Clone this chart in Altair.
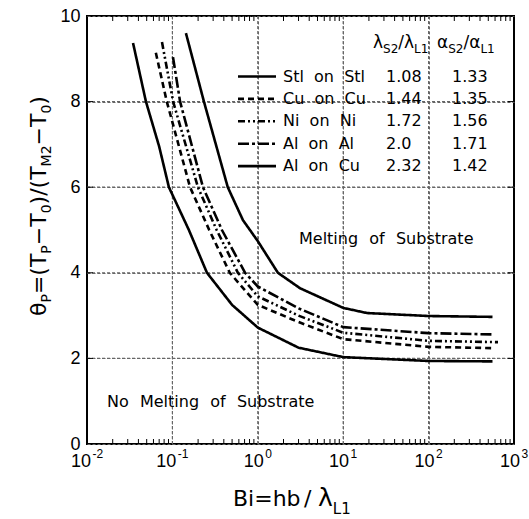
import altair as alt
import pandas as pd
import numpy as np

# ---------------- data ----------------
series = ["Stl on Stl", "Cu on Cu", "Ni on Ni", "Al on Al", "Al on Cu"]

stl_x = [0.0346, 0.049, 0.07, 0.091, 0.156, 0.254, 0.5, 1.0, 3.0, 10, 100, 560]
stl_y = [9.37, 8.0, 6.95, 6.0, 5.0, 4.0, 3.25, 2.72, 2.25, 2.03, 1.94, 1.93]

cu_x = [0.064, 0.086, 0.161, 0.27, 0.47, 1.0, 3.0, 10, 100, 560]
cu_y = [9.14, 8.0, 6.0, 5.0, 4.0, 3.25, 2.85, 2.45, 2.27, 2.24]

ni_x = [0.0755, 0.102, 0.199, 0.33, 0.585, 1.0, 3.0, 10, 100, 650]
ni_y = [9.39, 8.0, 6.0, 5.0, 4.0, 3.45, 3.0, 2.6, 2.41, 2.38]

al_x = [0.1016, 0.123, 0.228, 0.38, 0.71, 1.0, 3.0, 10, 100, 560]
al_y = [9.04, 8.0, 6.0, 5.0, 4.0, 3.68, 3.17, 2.73, 2.59, 2.56]

alcu_x = [0.144, 0.234, 0.445, 0.67, 1.0, 1.72, 3.12, 10, 19, 100, 560]
alcu_y = [9.6, 8.0, 6.0, 5.23, 4.74, 4.0, 3.64, 3.18, 3.06, 2.99, 2.97]

lam_ratio = ["1.08", "1.44", "1.72", "2.0", "2.32"]
alpha_ratio = ["1.33", "1.35", "1.56", "1.71", "1.42"]

x_tick_exponents = [-2, -1, 0, 1, 2, 3]
x_grid_values = [0.1, 1, 10, 100]
y_tick_values = [0, 2, 4, 6, 8, 10]

# ---------------- layout ----------------
W, H = 427, 428
L, T = 87, 16
LX0, LX1 = np.log10(0.01), np.log10(1000.0)


def xd(px):
    return 10 ** (LX0 + (px - L) / W * (LX1 - LX0))


def yd(py):
    return 10.0 * (T + H - py) / H


xs = alt.Scale(type="log", domain=[0.01, 1000], nice=False)
ys = alt.Scale(domain=[0, 10], nice=False, zero=False)

grid_kw = dict(grid=True, gridColor="#666", gridWidth=1, gridDash=[3, 2], gridOpacity=1,
               ticks=False, domain=False, title=None)
AX_X = alt.Axis(values=x_grid_values, labels=False, **grid_kw)
AX_Y = alt.Axis(values=y_tick_values, labelFont="Liberation Sans", labelFontSize=18,
                labelColor="black", labelPadding=7, labelFlush=False, labelOverlap=False, **grid_kw)


def X(f):
    return alt.X(f, scale=xs, axis=AX_X)


def Y(f):
    return alt.Y(f, scale=ys, axis=AX_Y)


dashes = [[1, 0], [6, 4], [7, 3, 2, 3, 2, 3], [11, 3, 3, 3], [1, 0]]
widths = [2.6, 2.6, 2.2, 2.6, 2.2]
dash_scale = alt.Scale(domain=series, range=dashes)
width_scale = alt.Scale(domain=series, range=widths)

# metrics (advance widths in em)
DJV = {" ": .318, "\u00a0": .318, "\u2002": .5, "\u2009": .2, "(": .390, ")": .390, "/": .337,
       "=": .838, "−": .838, "-": .361, ".": .318, "B": .686, "L": .557, "M": .863, "N": .748,
       "P": .603, "S": .635, "T": .611, "b": .635, "h": .634, "i": .278, "θ": .612, "λ": .592,
       "α": .659}
for d in "0123456789":
    DJV[d] = .636
LIB = {"-": .333, "−": .584}
for d in "0123456789":
    LIB[d] = .556


def tw(s, size, met):
    return sum(met.get(c, 0.6) for c in s) * size


# ---------------- grid (dashed rules, also drawn as marks) ----------------
grid_v = alt.Chart(pd.DataFrame({"gx": x_grid_values, "gy": [0.0] * 4, "gy2": [10.0] * 4})).mark_rule(
    color="#666", strokeWidth=1.2, strokeDash=[3, 2]).encode(x=X("gx:Q"), y=Y("gy:Q"), y2="gy2:Q")
grid_h = alt.Chart(pd.DataFrame({"gy": [2.0, 4.0, 6.0, 8.0], "gx": [0.01] * 4,
                                 "gx2": [1000.0] * 4})).mark_rule(
    color="#666", strokeWidth=1.2, strokeDash=[3, 2]).encode(x=X("gx:Q"), x2="gx2:Q", y=Y("gy:Q"))

# ---------------- curves ----------------
curve_x = [stl_x, cu_x, ni_x, al_x, alcu_x]
curve_y = [stl_y, cu_y, ni_y, al_y, alcu_y]
rows = []
for s, xx, yy in zip(series, curve_x, curve_y):
    for i, (a, b) in enumerate(zip(xx, yy)):
        rows.append({"series": s, "i": i, "x": a, "y": b})
curve_df = pd.DataFrame(rows)

curves = alt.Chart(curve_df).mark_line(color="black", strokeJoin="round", clip=True).encode(
    x=X("x:Q"), y=Y("y:Q"),
    strokeDash=alt.StrokeDash("series:N", scale=dash_scale, legend=None),
    strokeWidth=alt.StrokeWidth("series:N", scale=width_scale, legend=None),
    detail="series:N",
    order="i:Q",
)

# ---------------- ticks ----------------
minor_x = [m * 10.0 ** k for k in range(-2, 3) for m in range(2, 10)]
tl = 10.0 * 5 / H
tick_v = pd.DataFrame(
    [{"x": v, "y": 0.0, "y2": tl} for v in minor_x] +
    [{"x": v, "y": 10.0, "y2": 10.0 - tl} for v in minor_x])
ticks_v = alt.Chart(tick_v).mark_rule(color="black", strokeWidth=1).encode(
    x=X("x:Q"), y=Y("y:Q"), y2="y2:Q")
tick_h = pd.DataFrame(
    [{"x": 0.01, "x2": xd(L + 6), "y": v} for v in y_tick_values[1:-1]] +
    [{"x": 1000.0, "x2": xd(L + W - 6), "y": v} for v in y_tick_values[1:-1]])
ticks_h = alt.Chart(tick_h).mark_rule(color="black", strokeWidth=1).encode(
    x=X("x:Q"), x2="x2:Q", y=Y("y:Q"))

# ---------------- legend ----------------
row_py = [76.5 + 22.4 * k for k in range(5)]
leg_df = pd.DataFrame({"series": series, "x": xd(238), "x2": xd(276), "y": [yd(p) for p in row_py]})
leg_lines = alt.Chart(leg_df).mark_rule(color="black", strokeCap="butt").encode(
    x=X("x:Q"), x2="x2:Q", y=Y("y:Q"),
    strokeDash=alt.StrokeDash("series:N", scale=dash_scale, legend=None),
    strokeWidth=alt.StrokeWidth("series:N", scale=width_scale, legend=None))

sp = "\u00a0 "
leg_txt = []
for k, s in enumerate(series):
    leg_txt.append({"x": xd(283), "y": yd(row_py[k]), "text": s.replace(" ", sp)})
    leg_txt.append({"x": xd(386), "y": yd(row_py[k]), "text": lam_ratio[k]})
    leg_txt.append({"x": xd(452), "y": yd(row_py[k]), "text": alpha_ratio[k]})
leg_text = alt.Chart(pd.DataFrame(leg_txt)).mark_text(
    align="left", baseline="middle", font="DejaVu Sans", fontSize=16, color="black").encode(
    x=X("x:Q"), y=Y("y:Q"), text="text:N")

# ---------------- composed texts (sub/superscripts) ----------------
pieces = []


def compose(items, start, base, sizes, shift, angle=0, met=DJV, gap=0.0):
    """items: list of (text, kind) with kind 'm' main or 's' shifted."""
    cur = start
    for txt, kind in items:
        size = sizes[0] if kind == "m" else sizes[1]
        off = 0 if kind == "m" else shift
        if angle == 0:
            pieces.append({"x": xd(cur), "y": yd(base + off), "text": txt, "size": size,
                           "angle": 0, "font": met is DJV})
            cur += tw(txt, size, met) + gap
        else:
            pieces.append({"x": xd(base + off), "y": yd(cur), "text": txt, "size": size,
                           "angle": 270, "font": met is DJV})
            cur -= tw(txt, size, met) + gap


# y title (rotated)
compose([("θ", "m"), ("P", "s"), ("=(T", "m"), ("P", "s"), ("−T", "m"), ("0", "s"),
         (")/(T", "m"), ("M2", "s"), ("−T", "m"), ("0", "s"), (")", "m")],
        start=316, base=46, sizes=(22, 14), shift=5, angle=270)
# x title
compose([("Bi=hb", "m")], start=233, base=506, sizes=(22, 14), shift=0)
compose([("/", "m")], start=304, base=506, sizes=(22, 14), shift=0)
compose([("λ", "m"), ("L1", "s")], start=318, base=506, sizes=(25, 15), shift=8)
# legend header
compose([("λ", "m"), ("S2", "s"), ("/", "m"), ("λ", "m"), ("L1", "s")],
        start=373, base=48, sizes=(17, 12), shift=5)
compose([("α", "m"), ("S2", "s"), ("/", "m"), ("α", "m"), ("L1", "s")],
        start=437, base=48, sizes=(17, 12), shift=5)
# region labels
wsp = "\u2002\u2009"
compose([("Melting" + wsp + "of" + wsp + "Substrate", "m")], start=299, base=244, sizes=(16, 16), shift=0)
compose([("No" + wsp + "Melting" + wsp + "of" + wsp + "Substrate", "m")], start=107, base=407,
        sizes=(16, 16), shift=0)
# x tick labels: 10 with superscript exponent
for e in x_tick_exponents:
    tick_px = L + (e - LX0) / (LX1 - LX0) * W
    ex = ("-" + str(-e)) if e < 0 else str(e)
    total = tw("10", 18, LIB) + 1.5 + tw(ex, 12, LIB)
    compose([("10", "m"), (ex, "s")], start=tick_px - total / 2, base=467, sizes=(18, 12),
            shift=-9, met=LIB, gap=1.5)

pdf = pd.DataFrame(pieces)


def piece_layer(df, font):
    return alt.Chart(df).mark_text(align="left", baseline="alphabetic", font=font,
                                   color="black").encode(
        x=X("x:Q"), y=Y("y:Q"),
        text="text:N", size=alt.Size("size:Q", scale=None),
        angle=alt.Angle("angle:Q", scale=None))


djv_layer = piece_layer(pdf[pdf["font"]], "DejaVu Sans")
lib_layer = piece_layer(pdf[~pdf["font"]], "Liberation Sans")

chart = alt.layer(grid_v, grid_h, curves, ticks_v, ticks_h, leg_lines, leg_text, djv_layer,
                  lib_layer).properties(
    width=W, height=H,
    padding={"left": L, "top": T, "right": 529 - L - W, "bottom": 519 - T - H},
    autosize=alt.AutoSizeParams(type="none"),
    background="white",
).configure_view(stroke="black", strokeWidth=2)

chart.save("out.html", embed_options={"renderer": "svg", "actions": False})
